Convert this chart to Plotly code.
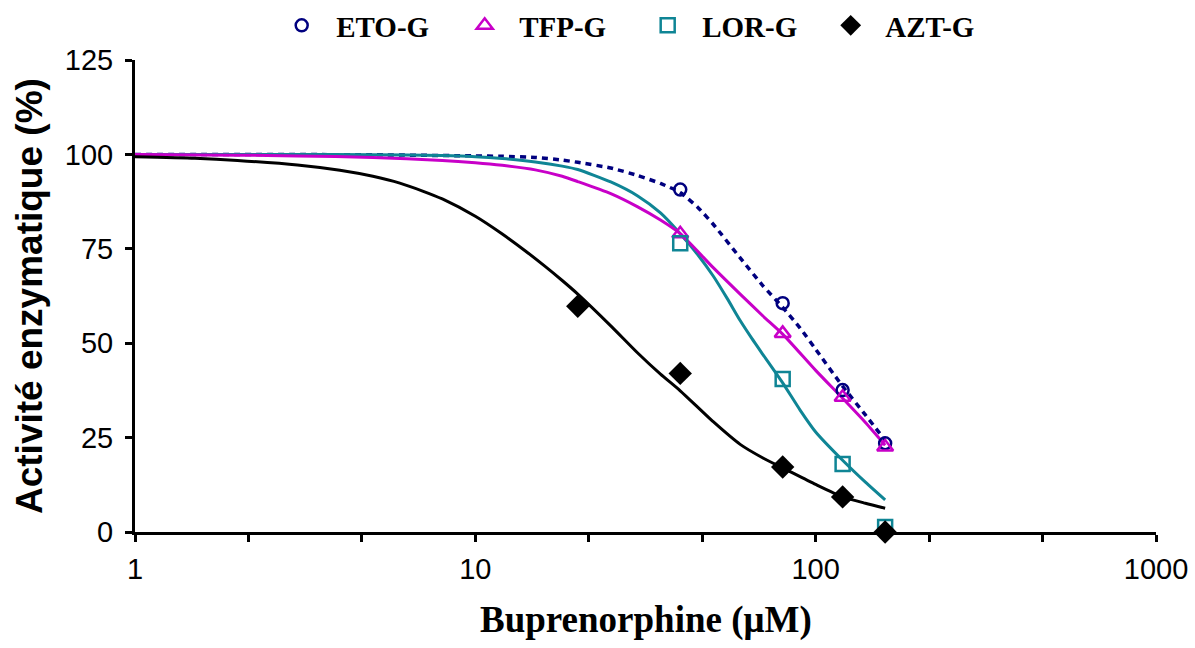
import plotly.graph_objects as go

# ---- data ----
series_names = ["ETO-G", "TFP-G", "LOR-G", "AZT-G"]

# measured points
eto_x = [40, 80, 120, 160]
eto_y = [90.7, 60.6, 37.6, 23.5]
tfp_x = [40, 80, 120, 160]
tfp_y = [79.0, 52.6, 35.7, 22.5]
lor_x = [40, 80, 120, 160]
lor_y = [76.5, 40.5, 18.0, 1.3]
azt_x = [20, 40, 80, 120, 160]
azt_y = [59.8, 42.0, 17.2, 9.3, 0.0]

# fitted curves
eto_fit_x = [1, 5, 10, 12, 15, 18, 20, 25, 30, 35, 40, 45, 50, 60, 70, 80, 90, 100, 120, 140, 160]
eto_fit_y = [100, 99.9, 99.6, 99.5, 99.2, 98.5, 97.9, 96.4, 94.4, 92.3, 89.9, 86.0, 81.5, 72.6, 65.2, 59.5, 54.0, 48.4, 38.6, 31.0, 24.3]
tfp_fit_x = [1, 2, 3, 5, 8, 10, 12, 15, 18, 20, 25, 30, 35, 40, 50, 60, 70, 80, 100, 120, 140, 160]
tfp_fit_y = [100, 99.8, 99.6, 99.2, 98.4, 97.8, 97.1, 95.9, 94.2, 92.8, 89.6, 86.1, 82.6, 79.0, 70.0, 63.0, 57.2, 52.4, 42.8, 35.4, 29.0, 23.0]
lor_fit_x = [1, 3, 5, 8, 10, 12, 15, 18, 20, 25, 30, 35, 40, 45, 50, 55, 60, 65, 70, 80, 90, 100, 120, 140, 160]
lor_fit_y = [100, 100, 99.9, 99.7, 99.4, 98.9, 98.0, 96.9, 96.0, 92.7, 89.0, 84.5, 79.0, 73.5, 67.8, 61.8, 56.0, 51.2, 47.0, 39.5, 32.3, 26.5, 19.0, 13.2, 8.5]
azt_fit_x = [1, 1.5, 2, 3, 4, 5, 6, 7, 8, 10, 12, 14, 16, 18, 20, 25, 30, 35, 40, 50, 60, 70, 80, 100, 120, 140, 160]
azt_fit_y = [99.4, 99.0, 98.4, 97.2, 95.8, 94.2, 92.4, 90.3, 88.2, 83.6, 78.9, 74.5, 70.4, 66.6, 63.0, 54.6, 47.4, 41.8, 37.4, 29.2, 23.2, 19.6, 17.0, 12.6, 9.3, 7.6, 6.3]

x_tick_vals = [1, 2.154, 4.642, 10, 21.54, 46.42, 100, 215.4, 464.2, 1000]
x_tick_text = ["1", "", "", "10", "", "", "100", "", "", "1000"]
y_tick_vals = [0, 25, 50, 75, 100, 125]

x_title = "Buprenorphine (μM)"
y_title = "Activité enzymatique (%)"

# ---- styles ----
NAVY = "#00007F"
MAG = "#C800C8"
TEAL = "#0F8595"
BLACK = "#000000"

fig = go.Figure()

# fitted curves
fig.add_trace(go.Scatter(x=eto_fit_x, y=eto_fit_y, mode="lines", showlegend=False,
                         line=dict(color=NAVY, width=3.5, dash="6px,5px", shape="spline", smoothing=0.6),
                         hoverinfo="skip"))
fig.add_trace(go.Scatter(x=lor_fit_x, y=lor_fit_y, mode="lines", showlegend=False,
                         line=dict(color=TEAL, width=3, shape="spline", smoothing=0.6), hoverinfo="skip"))
fig.add_trace(go.Scatter(x=tfp_fit_x, y=tfp_fit_y, mode="lines", showlegend=False,
                         line=dict(color=MAG, width=3, shape="spline", smoothing=0.6), hoverinfo="skip"))
fig.add_trace(go.Scatter(x=azt_fit_x, y=azt_fit_y, mode="lines", showlegend=False,
                         line=dict(color=BLACK, width=3, shape="spline", smoothing=0.6), hoverinfo="skip"))

# points
fig.add_trace(go.Scatter(x=eto_x, y=eto_y, mode="markers", name="\u2002" + series_names[0],
                         marker=dict(symbol="circle-open", size=12, color=NAVY,
                                     line=dict(width=2.5, color=NAVY)), cliponaxis=False))
fig.add_trace(go.Scatter(x=tfp_x, y=tfp_y, mode="markers", name="\u2002" + series_names[1],
                         marker=dict(symbol="triangle-up-open", size=14, color=MAG,
                                     line=dict(width=2.5, color=MAG)), cliponaxis=False))
fig.add_trace(go.Scatter(x=lor_x, y=lor_y, mode="markers", name="\u2002" + series_names[2],
                         marker=dict(symbol="square-open", size=14, color=TEAL,
                                     line=dict(width=2.5, color=TEAL)), cliponaxis=False))
fig.add_trace(go.Scatter(x=azt_x, y=azt_y, mode="markers", name="\u2002" + series_names[3],
                         marker=dict(symbol="diamond", size=18, color=BLACK,
                                     line=dict(width=0)), cliponaxis=False))

fig.update_layout(
    width=1195, height=648,
    margin=dict(l=135, r=39, t=60, b=116, autoexpand=False),
    paper_bgcolor="white", plot_bgcolor="white",
    showlegend=True,
    legend=dict(orientation="h", x=0.542, xanchor="center", xref="container",
                y=1.0, yanchor="top", yref="container",
                font=dict(family="Liberation Serif", size=29, color="black", weight="bold"),
                entrywidth=138, entrywidthmode="pixels", itemsizing="trace",
                bgcolor="rgba(0,0,0,0)"),
    xaxis=dict(type="log", range=[0, 3], tickvals=x_tick_vals, ticktext=x_tick_text,
               ticks="outside", ticklen=7, tickwidth=2.5, tickcolor="black",
               showline=True, linecolor="black", linewidth=3, showgrid=False, zeroline=False,
               tickfont=dict(family="Liberation Sans", size=29, color="black"),
               ticklabelstandoff=2),
    yaxis=dict(range=[0, 125], tickvals=y_tick_vals,
               ticks="outside", ticklen=7, tickwidth=2.5, tickcolor="black",
               showline=True, linecolor="black", linewidth=3, showgrid=False, zeroline=False,
               tickfont=dict(family="Liberation Sans", size=29, color="black"),
               ticklabelstandoff=6),
    annotations=[
        dict(text=x_title, xref="paper", yref="paper", x=0.5, y=0, yshift=-88,
             xanchor="center", yanchor="middle", showarrow=False,
             font=dict(family="Liberation Serif", size=37, color="black", weight="bold")),
        dict(text=y_title, xref="paper", yref="paper", x=0, xshift=-106, y=0.5,
             xanchor="center", yanchor="middle", showarrow=False, textangle=-90,
             font=dict(family="Liberation Sans", size=37, color="black", weight="bold")),
    ],
)

fig.write_html("out.html")
